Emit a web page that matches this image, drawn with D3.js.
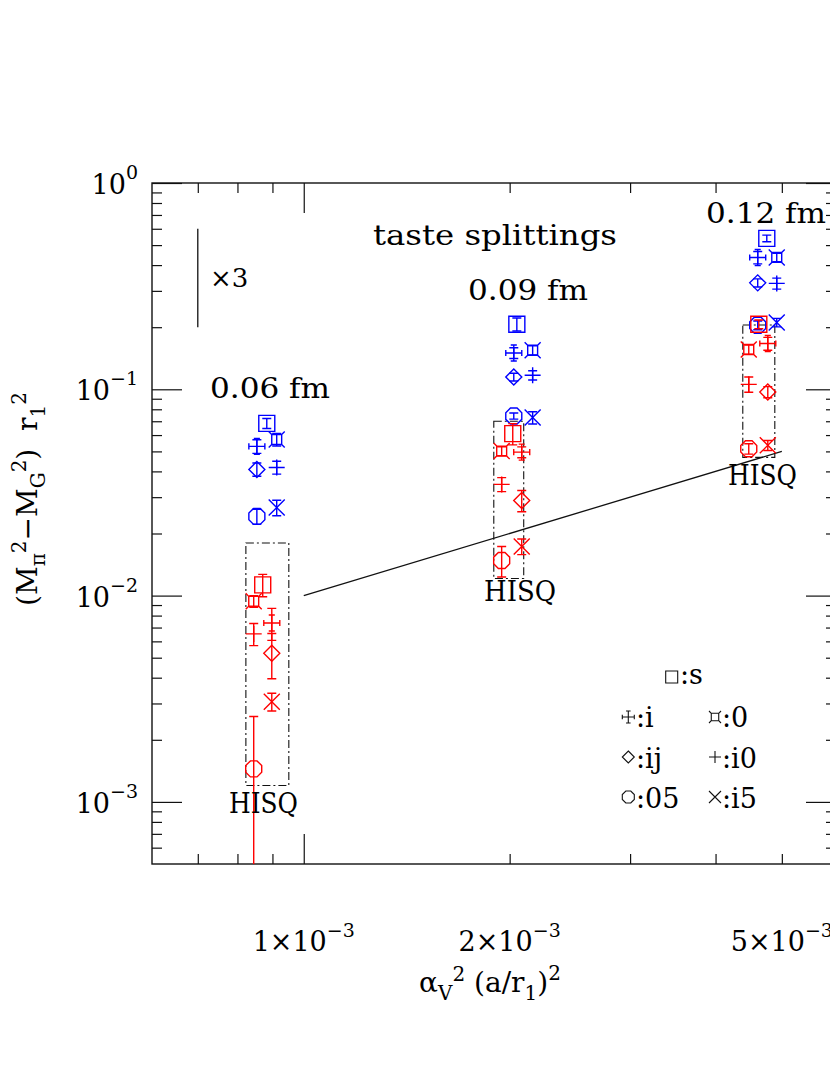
<!DOCTYPE html>
<html><head><meta charset="utf-8">
<script src="https://cdn.jsdelivr.net/npm/d3@7"></script>
<style>
body{margin:0;background:#fff}
svg{display:block}
text{font-family:"DejaVu Serif",serif;fill:#000}
</style>
</head><body>
<svg id="c" width="830" height="1075"></svg>
<script>
// ---------------- data ----------------
const tastes = ["s","i","0","ij","i0","05","i5"];
const spacings = ["0.06 fm","0.09 fm","0.12 fm"];

// unimproved (blue) points, order as tastes
const blue06X = [8.83e-4, 8.54e-4, 9.13e-4, 8.54e-4, 9.13e-4, 8.54e-4, 9.13e-4];
const blue06Y = [0.0684, 0.0529, 0.0571, 0.0409, 0.0418, 0.0242, 0.0267];
const blue06E = [0.0038, 0.004, 0.004, 0.003, 0.003, 0.002, 0.0023];
const blue09X = [2.049e-3, 2.028e-3, 2.161e-3, 2.028e-3, 2.161e-3, 2.028e-3, 2.161e-3];
const blue09Y = [0.2067, 0.150, 0.1546, 0.1147, 0.1169, 0.0742, 0.0729];
const blue09E = [0.015, 0.009, 0.008, 0.005, 0.006, 0.0025, 0.005];
const blue12X = [4.753e-3, 4.61e-3, 4.915e-3, 4.61e-3, 4.915e-3, 4.61e-3, 4.915e-3];
const blue12Y = [0.539, 0.4357, 0.4357, 0.328, 0.326, 0.2045, 0.2108];
const blue12E = [0.02, 0.03, 0.02, 0.015, 0.02, 0.01, 0.01];

// HISQ (red) points
const red06X = [8.71e-4, 8.98e-4, 8.45e-4, 8.98e-4, 8.45e-4, 8.45e-4, 8.98e-4];
const red06Y = [0.01127, 0.00737, 0.00938, 0.00525, 0.00652, 0.001445, 0.00306];
const red06E = [0.0014, 0.0013, 0.0006, 0.0013, 0.0008, 0.00115, 0.0003];
const red09X = [2.021e-3, 2.083e-3, 1.947e-3, 2.083e-3, 1.947e-3, 1.947e-3, 2.083e-3];
const red09Y = [0.0610, 0.0496, 0.0502, 0.0289, 0.0346, 0.0148, 0.0173];
const red09E = [0.0072, 0.003, 0.0025, 0.0034, 0.0027, 0.0025, 0.0015];
const red12X = [4.627e-3, 4.769e-3, 4.473e-3, 4.769e-3, 4.473e-3, 4.473e-3, 4.769e-3];
const red12Y = [0.2067, 0.1666, 0.1559, 0.0970, 0.1057, 0.0515, 0.0535];
const red12E = [0.01, 0.012, 0.008, 0.006, 0.009, 0.003, 0.003];

// HISQ boxes
const hisqBoxX = [[8.23e-4, 9.51e-4], [1.896e-3, 2.097e-3], [4.384e-3, 4.883e-3]];
const hisqBoxY = [[0.0012, 0.018], [0.0121, 0.070], [0.0468, 0.205]];

// reference line ~ alpha^2 a^2
const fitLineX = [1e-3, 5e-3];
const fitLineY = [0.01, 0.05];

// "x3" scale bar
const scaleBarX = 7e-4;
const scaleBarY = [0.2, 0.6];

// axes
const xDomain = [6e-4, 6e-3];
const yDomain = [5e-4, 1];
const xMajorTicks = [1e-3];
const xMinorTicks = [7e-4, 8e-4, 9e-4, 2e-3, 3e-3, 4e-3, 5e-3];
const xTickLabels = [[1e-3, "1", "−3"], [2e-3, "2", "−3"], [5e-3, "5", "−3"]];
const yMajorTicks = [1e-3, 1e-2, 1e-1, 1];
const yMinorTicks = [6e-4,7e-4,8e-4,9e-4,2e-3,3e-3,4e-3,5e-3,6e-3,7e-3,8e-3,9e-3,
  2e-2,3e-2,4e-2,5e-2,6e-2,7e-2,8e-2,9e-2,2e-1,3e-1,4e-1,5e-1,6e-1,7e-1,8e-1,9e-1];
const yTickLabels = [[1, "0"], [1e-1, "−1"], [1e-2, "−2"], [1e-3, "−3"]];

// ---------------- drawing ----------------
const L = 152, R = 836, T = 183, B = 864;
const svg = d3.select("#c");
const x = d3.scaleLog().domain(xDomain).range([L, R]);
const y = d3.scaleLog().domain(yDomain).range([B, T]);

svg.append("defs").append("clipPath").attr("id","plotclip")
  .append("rect").attr("x",L).attr("y",T).attr("width",R-L).attr("height",B-T);

function axisG(axis, tr){
  const g = svg.append("g").attr("transform", tr).call(axis);
  g.select(".domain").remove();
  g.selectAll("line").attr("stroke","#111").attr("stroke-width",1.2);
  return g;
}
const minor = 10, major = 30;
axisG(d3.axisBottom(x).tickValues(xMinorTicks).tickSize(-minor).tickFormat(""), `translate(0,${B})`);
axisG(d3.axisBottom(x).tickValues(xMajorTicks).tickSize(-major).tickFormat(""), `translate(0,${B})`);
axisG(d3.axisTop(x).tickValues(xMinorTicks).tickSize(-minor).tickFormat(""), `translate(0,${T})`);
axisG(d3.axisTop(x).tickValues(xMajorTicks).tickSize(-major).tickFormat(""), `translate(0,${T})`);
axisG(d3.axisLeft(y).tickValues(yMinorTicks).tickSize(-minor).tickFormat(""), `translate(${L},0)`);
axisG(d3.axisLeft(y).tickValues(yMajorTicks).tickSize(-major).tickFormat(""), `translate(${L},0)`);
axisG(d3.axisRight(y).tickValues(yMinorTicks).tickSize(-minor).tickFormat(""), `translate(${R},0)`);
axisG(d3.axisRight(y).tickValues(yMajorTicks).tickSize(-major).tickFormat(""), `translate(${R},0)`);

svg.append("rect").attr("x",L).attr("y",T).attr("width",R-L).attr("height",B-T)
  .attr("fill","none").attr("stroke","#111").attr("stroke-width",1.4);

// x tick labels
xTickLabels.forEach(([v, m, e]) => {
  const t = svg.append("text").attr("x", x(v)).attr("y", 951).attr("text-anchor","middle")
    .attr("font-size",27);
  t.append("tspan").text(m + "×10");
  t.append("tspan").attr("font-size",19).attr("dy",-14).text(e);
});
// y tick labels
yTickLabels.forEach(([v, e]) => {
  const t = svg.append("text").attr("x", 138).attr("y", y(v) + 11).attr("text-anchor","end")
    .attr("font-size",27);
  t.append("tspan").text("10");
  t.append("tspan").attr("font-size",19).attr("dy",-15).text(e);
});

// axis titles
{
  const t = svg.append("text").attr("x", 490).attr("y", 992).attr("text-anchor","middle").attr("font-size",28);
  t.append("tspan").text("α");
  t.append("tspan").attr("font-size",20).attr("dy",8).text("V");
  t.append("tspan").attr("font-size",20).attr("dy",-19).text("2");
  t.append("tspan").attr("dy",11).text("\u00a0(a/r");
  t.append("tspan").attr("font-size",20).attr("dy",8).text("1");
  t.append("tspan").attr("dy",-8).text(")");
  t.append("tspan").attr("font-size",20).attr("dy",-12).text("2");
}
{
  const t = svg.append("text").attr("transform","translate(37,499) rotate(-90)")
    .attr("text-anchor","middle").attr("font-size",28);
  t.append("tspan").text("(M");
  t.append("tspan").attr("font-size",20).attr("dy",8).text("π");
  t.append("tspan").attr("font-size",20).attr("dy",-19).text("2");
  t.append("tspan").attr("dy",11).text("−M");
  t.append("tspan").attr("font-size",20).attr("dy",8).text("G");
  t.append("tspan").attr("font-size",20).attr("dy",-19).text("2");
  t.append("tspan").attr("dy",11).text(")\u00a0\u00a0r");
  t.append("tspan").attr("font-size",20).attr("dy",8).text("1");
  t.append("tspan").attr("font-size",20).attr("dy",-19).text("2");
}

// symbols
function symbolPath(k, r){
  const c = r*0.38;
  switch(k){
    case "s": return `M${-r},${-r}H${r}V${r}H${-r}Z`;
    case "i": return `M${-r},0H${r}M0,${-r}V${r}M${-r},${-c}V${c}M${r},${-c}V${c}M${-c},${-r}H${c}M${-c},${r}H${c}`;
    case "0": { const q = r*0.62;
      return `M${-q},${-q}H${q}V${q}H${-q}Z M${-r},${-r}L${-q},${-q}M${r},${-r}L${q},${-q}M${-r},${r}L${-q},${q}M${r},${r}L${q},${q}`; }
    case "ij": return `M0,${-r}L${r},0L0,${r}L${-r},0Z`;
    case "i0": return `M${-r},0H${r}M0,${-r}V${r}`;
    case "05": { const a = r*0.414;
      return `M${-a},${-r}H${a}L${r},${-a}V${a}L${a},${r}H${-a}L${-r},${a}V${-a}Z`; }
    case "i5": return `M${-r},${-r}L${r},${r}M${-r},${r}L${r},${-r}`;
  }
}

const plot = svg.append("g").attr("clip-path","url(#plotclip)");

// HISQ boxes
hisqBoxX.forEach((bx, i) => {
  const by = hisqBoxY[i];
  plot.append("rect").attr("x", x(bx[0])).attr("y", y(by[1]))
    .attr("width", x(bx[1]) - x(bx[0])).attr("height", y(by[0]) - y(by[1]))
    .attr("fill","none").attr("stroke","#111").attr("stroke-width",1.1)
    .attr("stroke-dasharray","8,3,2,3");
});

// reference line
plot.append("path").datum(fitLineX.map((v,i)=>[v, fitLineY[i]]))
  .attr("d", d3.line().x(d=>x(d[0])).y(d=>y(d[1])))
  .attr("fill","none").attr("stroke","#111").attr("stroke-width",1.3);

// x3 bar
plot.append("line").attr("x1", x(scaleBarX)).attr("x2", x(scaleBarX))
  .attr("y1", y(scaleBarY[0])).attr("y2", y(scaleBarY[1]))
  .attr("stroke","#111").attr("stroke-width",1.3);

function series(X, Y, E, color){
  const pts = tastes.map((k,i)=>({k, x:X[i], y:Y[i], e:E[i]}));
  const g = plot.append("g").attr("stroke", color).attr("fill","none").attr("stroke-width",1.4);
  pts.forEach(p => {
    const cx = x(p.x), cy = y(p.y);
    const lo = p.y - p.e > 0 ? y(p.y - p.e) : B + 20;
    const hi = y(p.y + p.e);
    const cw = 4.5;
    g.append("path").attr("d", `M${cx},${lo}V${hi}M${cx-cw},${hi}H${cx+cw}M${cx-cw},${lo}H${cx+cw}`);
    g.append("path").attr("transform",`translate(${cx},${cy})`).attr("d", symbolPath(p.k, 8));
  });
}
series(blue06X, blue06Y, blue06E, "#0000ff");
series(blue09X, blue09Y, blue09E, "#0000ff");
series(blue12X, blue12Y, blue12E, "#0000ff");
series(red06X, red06Y, red06E, "#ff0000");
series(red09X, red09Y, red09E, "#ff0000");
series(red12X, red12Y, red12E, "#ff0000");

// annotations
function label(txt, px, py, fs, len){
  const t = svg.append("text").attr("x",px).attr("y",py).attr("font-size",fs).text(txt);
  if (len) t.attr("textLength",len).attr("lengthAdjust","spacingAndGlyphs");
  return t;
}
label("taste splittings", 373, 245, 27, 244);
label(spacings[0], 210, 398, 27, 120);
label(spacings[1], 468, 300, 27, 120);
label(spacings[2], 706, 223, 27, 120);
label("×3", 210, 287, 26);
label("HISQ", 229, 813, 27, 69);
label("HISQ", 484, 601, 27, 72);
label("HISQ", 728, 485, 27, 69);

// legend
const legendItems = [
  {k:"s",  sx:671.7, sy:677, tx:680, ty:684},
  {k:"i",  sx:628.3, sy:717, tx:636, ty:727},
  {k:"0",  sx:715,   sy:717, tx:722, ty:727},
  {k:"ij", sx:628.3, sy:757, tx:636, ty:768},
  {k:"i0", sx:715,   sy:757, tx:722, ty:768},
  {k:"05", sx:628.3, sy:797, tx:636, ty:808},
  {k:"i5", sx:715,   sy:797, tx:722, ty:808}
];
legendItems.forEach(d => {
  svg.append("path").attr("transform",`translate(${d.sx},${d.sy})`).attr("d", symbolPath(d.k, 6))
    .attr("fill","none").attr("stroke","#111").attr("stroke-width",1.1);
  svg.append("text").attr("x", d.tx).attr("y", d.ty).attr("font-size",27).text(":" + d.k);
});
</script>
</body></html>
